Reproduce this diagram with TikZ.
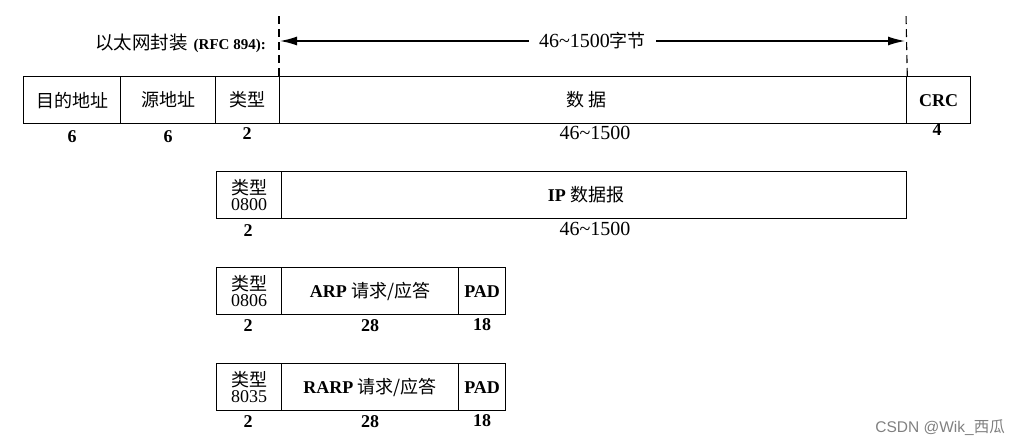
\documentclass[tikz,border=0pt]{standalone}
\usepackage{fontspec}
\setmainfont{Liberation Serif}
\setsansfont{Liberation Sans}
\newfontfamily\cjk{Noto Sans CJK SC}
\usetikzlibrary{arrows.meta}
\begin{document}
\begin{tikzpicture}[x=1pt,y=-1pt,
  fld/.style={draw, line width=1.3pt, inner sep=0pt, anchor=north west, minimum height=47pt, font=\fontsize{18}{20}\selectfont},
  typbox/.style={fld, minimum width=65pt, align=center, font=\fontsize{18}{16.5}\selectfont},
  num/.style={font=\bfseries\fontsize{18}{18}\selectfont, inner sep=0pt},
  rng/.style={font=\fontsize{20}{20}\selectfont, inner sep=0pt},
  guide/.style={line width=1.1pt, dash pattern=on 8pt off 5pt},
  span/.style={line width=1.5pt, {Latex[length=17pt,width=9pt]}-{Latex[length=17pt,width=9pt]}}]
\useasboundingbox (0,0) rectangle (1013,444);
% row 1
\node[fld, minimum width=97pt] (dst) at (23,76) {\cjk 目的地址};
\node[fld, minimum width=95pt] (src) at (120,76) {\cjk 源地址};
\node[fld, minimum width=64pt] (typ) at (215,76) {\cjk 类型};
\node[fld, minimum width=627pt] (data) at (279,76) {\hspace*{-14pt}\cjk 数\ 据};
\node[fld, minimum width=64pt] (crc) at (906,76) {\bfseries CRC};
\node[num] (n1) at (72,137) {6};
\node[num] (n2) at (168,137) {6};
\node[num] (n3) at (247,134) {2};
\node[rng] (n4) at (595,133) {46\char`\~1500};
\node[num] (n5) at (937,130) {4};
% header
\coordinate (gl) at (279,14);
\coordinate (gr) at (906,14);
\draw[guide] (data.north west) -- (gl);
\draw[guide] (data.north east) -- (gr);
\coordinate (al) at (280,41);
\coordinate (ar) at (905,41);
\draw[span] (al) -- node[fill=white, inner xsep=10pt, font=\fontsize{20}{20}\selectfont] (lenlbl) {46\char`\~1500{\cjk\fontsize{18}{20}\selectfont 字节}} (ar);
\node[anchor=east, inner sep=0pt] (enc) at (266,43) {{\cjk\fontsize{18.5}{20}\selectfont 以太网封装}\hspace{6pt}{\bfseries\fontsize{15}{16}\selectfont (RFC 894):}};
% row 2
\node[typbox] (t2) at (216,171) {{\cjk 类型}\\0800};
\node[fld, minimum width=625pt, minimum height=47pt] (ip) at (281,171) {\hspace*{-16pt}{\bfseries IP} {\cjk 数据报}};
\node[num] (m1) at (248,231) {2};
\node[rng] (m2) at (595,229) {46\char`\~1500};
% row 3
\node[typbox] (t3) at (216,267) {{\cjk 类型}\\0806};
\node[fld, minimum width=177pt] (arp) at (281,267) {{\bfseries ARP} {\cjk 请求/应答}};
\node[fld, minimum width=47pt] (pad3) at (458,267) {\bfseries PAD};
\node[num] (k1) at (248,326) {2};
\node[num] (k2) at (370,326) {28};
\node[num] (k3) at (482,325) {18};
% row 4
\node[typbox] (t4) at (216,363) {{\cjk 类型}\\8035};
\node[fld, minimum width=177pt] (rarp) at (281,363) {{\bfseries RARP} {\cjk 请求/应答}};
\node[fld, minimum width=47pt] (pad4) at (458,363) {\bfseries PAD};
\node[num] (j1) at (248,422) {2};
\node[num] (j2) at (370,422) {28};
\node[num] (j3) at (482,421) {18};
% watermark
\node[anchor=east, text=gray, font=\sffamily\fontsize{15.5}{16}\selectfont, inner sep=0pt] (wm) at (1005,428) {CSDN @Wik\_{\cjk 西瓜}};
\end{tikzpicture}
\end{document}
